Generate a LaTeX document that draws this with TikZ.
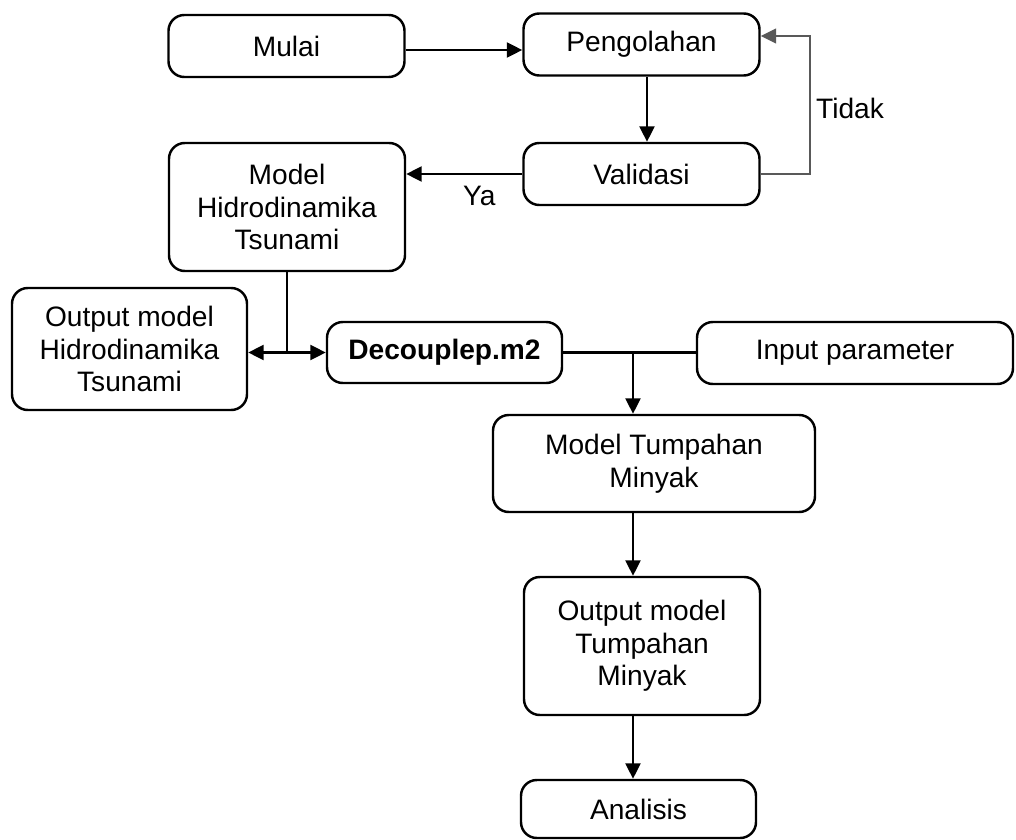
\documentclass[tikz,border=0pt]{standalone}
\usepackage{fontspec}
\setmainfont{Liberation Sans}
\usepackage{tikz}
\usetikzlibrary{arrows.meta, positioning, calc}

\begin{document}
\begin{tikzpicture}[
    box/.style={draw, line width=1.4pt, rounded corners=9pt, minimum width=4.72cm, minimum height=1.24cm, align=center, inner sep=2pt, font=\fontsize{16}{18.5}\selectfont},
    arr/.style={-{Triangle[length=3.1mm, width=3mm]}, line width=1.3pt},
    plain/.style={line width=1.3pt},
    loopline/.style={-{Triangle[length=3.1mm, width=3mm]}, line width=0.8pt, draw=black!65},
    lbl/.style={font=\fontsize{16}{18.5}\selectfont},
]
\useasboundingbox (0,0) rectangle (20.32,-16.8);

% Top row
\node[box] (mulai) at (5.73, -0.92) {Mulai};
\node[box] (pengolahan) at (12.83, -0.89) {Pengolahan};
\node[box] (validasi) at (12.83, -3.48) {Validasi};

% Hidrodinamika
\node[box, minimum height=2.56cm] (modelht) at (5.74, -4.14) {Model\\Hidrodinamika\\Tsunami};
\node[box, minimum width=4.7cm, minimum height=2.44cm] (outputht) at (2.59, -6.98) {Output model\\Hidrodinamika\\Tsunami};
\node[box, minimum width=4.7cm, minimum height=1.22cm] (decouple) at (8.89, -7.05) {\bfseries Decouplep.m2};
\node[box, minimum width=6.32cm] (input) at (17.1, -7.06) {Input parameter};

% Tumpahan minyak
\node[box, minimum width=6.44cm, minimum height=1.94cm] (modeltm) at (13.08, -9.27) {Model Tumpahan\\Minyak};
\node[box, minimum height=2.76cm] (outputtm) at (12.84, -12.92) {Output model\\Tumpahan\\Minyak};
\node[box, minimum width=4.7cm, minimum height=1.16cm] (analisis) at (12.77, -16.18) {Analisis};

% Helper points
\coordinate (tidakcorner) at (16.2, -0.72);
\coordinate (split) at (modelht.south |- decouple.west);
\coordinate (branch) at (12.66, -7.05);

% Arrows
\draw[arr] (mulai.east |- 0,-1.0) -- (pengolahan.west |- 0,-1.0);
\draw[arr] (pengolahan.south -| 12.94,0) -- (validasi.north -| 12.94,0);
\draw[loopline] (validasi.east) -| (tidakcorner) -- (tidakcorner -| pengolahan.east);
\node[lbl, anchor=west, inner sep=1pt] (tidak) at (16.28, -2.16) {Tidak};
\draw[arr] (validasi.west) -- (modelht.east |- validasi.west) node[lbl, pos=0.37, below=3pt] (ya) {Ya};

% Decouple links
\draw[plain] (modelht.south) -- (split);
\draw[arr] (split) -- (outputht.east |- split);
\draw[arr] (split) -- (decouple.west);
\draw[plain] (decouple.east) -- (input.west |- decouple.east);
\draw[arr] (branch) -- (branch |- modeltm.north);

\draw[arr] (modeltm.south -| branch) -- (outputtm.north -| branch);
\draw[arr] (outputtm.south -| branch) -- (analisis.north -| branch);

\end{tikzpicture}
\end{document}
